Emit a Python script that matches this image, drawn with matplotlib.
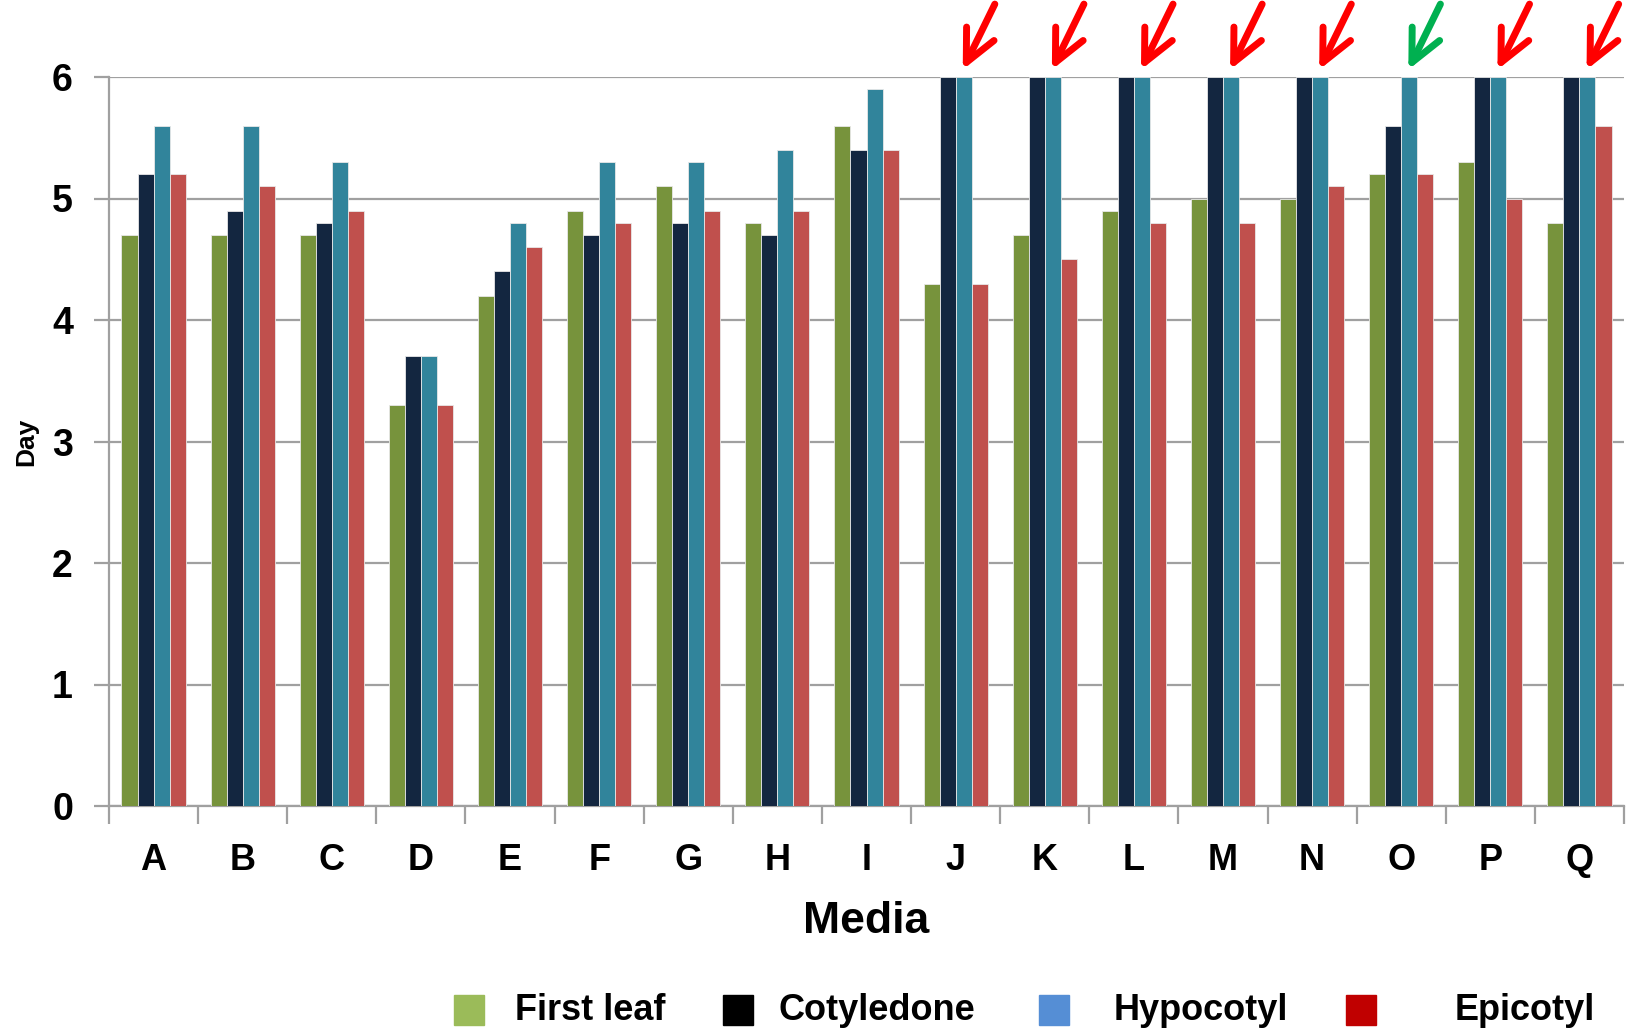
import matplotlib
matplotlib.use("Agg")
import matplotlib.pyplot as plt
import numpy as np
from matplotlib.patches import Rectangle

plt.rcParams["font.family"] = ["Liberation Sans Narrow", "Liberation Sans", "DejaVu Sans"]
plt.rcParams["font.weight"] = "bold"

media = list("ABCDEFGHIJKLMNOPQ")
first_leaf = [4.7, 4.7, 4.7, 3.3, 4.2, 4.9, 5.1, 4.8, 5.6, 4.3, 4.7, 4.9, 5.0, 5.0, 5.2, 5.3, 4.8]
cotyledone = [5.2, 4.9, 4.8, 3.7, 4.4, 4.7, 4.8, 4.7, 5.4, 6.0, 6.0, 6.0, 6.0, 6.0, 5.6, 6.0, 6.0]
hypocotyl = [5.6, 5.6, 5.3, 3.7, 4.8, 5.3, 5.3, 5.4, 5.9, 6.0, 6.0, 6.0, 6.0, 6.0, 6.0, 6.0, 6.0]
epicotyl = [5.2, 5.1, 4.9, 3.3, 4.6, 4.8, 4.9, 4.9, 5.4, 4.3, 4.5, 4.8, 4.8, 5.1, 5.2, 5.0, 5.6]
# arrow markers above the groups (None = no arrow)
flags = [None] * 9 + ["red", "red", "red", "red", "red", "green", "red", "red"]

series = ["First leaf", "Cotyledone", "Hypocotyl", "Epicotyl"]
bar_colors = ["#77933C", "#132640", "#31849B", "#C0504D"]
legend_colors = ["#9BBB59", "#000000", "#558ED5", "#C00000"]
flag_colors = {"red": "#FF0000", "green": "#00B050"}

W, H = 1637, 1036
fig = plt.figure(figsize=(W / 100, H / 100), dpi=100)
ax = fig.add_axes([109 / W, 1 - 806 / H, (1624 - 109) / W, (806 - 77) / H])

x = np.arange(len(media))
bar_w = 0.18
for i, (vals, col) in enumerate(zip([first_leaf, cotyledone, hypocotyl, epicotyl], bar_colors)):
    ax.bar(x + (i - 1.5) * bar_w, vals, width=bar_w, color=col,
           edgecolor="#E8E8E8", linewidth=0.6, zorder=3)

ax.set_xlim(-0.5, len(media) - 0.5)
ax.set_ylim(0, 6)
ax.set_yticks(range(7))
ax.yaxis.grid(True, color="#A0A0A0", linewidth=1.6, zorder=0)
ax.set_axisbelow(True)

# boundary ticks as marks, labels on the category centres
ax.set_xticks(np.arange(-0.5, len(media)), minor=False)
ax.set_xticklabels([])
ax.set_xticks(x, minor=True)
ax.set_xticklabels(media, minor=True)
ax.tick_params(axis="x", which="major", length=13, width=1.6, color="#A0A0A0")
ax.tick_params(axis="x", which="minor", length=0, pad=27, labelsize=26)
ax.tick_params(axis="y", length=11, width=1.6, color="#A0A0A0", pad=15, labelsize=27)

for side in ("top", "right"):
    ax.spines[side].set_visible(False)
for side in ("left", "bottom"):
    ax.spines[side].set_color("#A0A0A0")
    ax.spines[side].set_linewidth(1.6)

ax.set_xlabel("Media", fontsize=32, fontweight="bold", labelpad=16)
fig.text(26 / W, 1 - 442 / H, "Day", rotation=90, fontsize=19, fontweight="bold",
         ha="center", va="center")

for xi, flag in zip(x, flags):
    if flag is None:
        continue
    ax.annotate("", xy=(xi + 0.08, 6.06), xytext=(xi + 0.44, 6.6),
                arrowprops=dict(arrowstyle="->,head_length=2.3,head_width=1.1",
                                color=flag_colors[flag], lw=5,
                                shrinkA=0, shrinkB=0, mutation_scale=10),
                annotation_clip=False)

# legend row under the chart
marker_x = [469, 738, 1054, 1361]
text_x = [515, 778, 1114, 1455]
yc = 1010
for name, col, mx, tx in zip(series, legend_colors, marker_x, text_x):
    fig.patches.append(Rectangle(((mx - 15) / W, 1 - (yc + 15) / H), 30 / W, 30 / H,
                                 transform=fig.transFigure, color=col))
    fig.text(tx / W, 1 - yc / H, name, fontsize=26, fontweight="bold",
             ha="left", va="center")

fig.savefig("out.png", dpi=100)
